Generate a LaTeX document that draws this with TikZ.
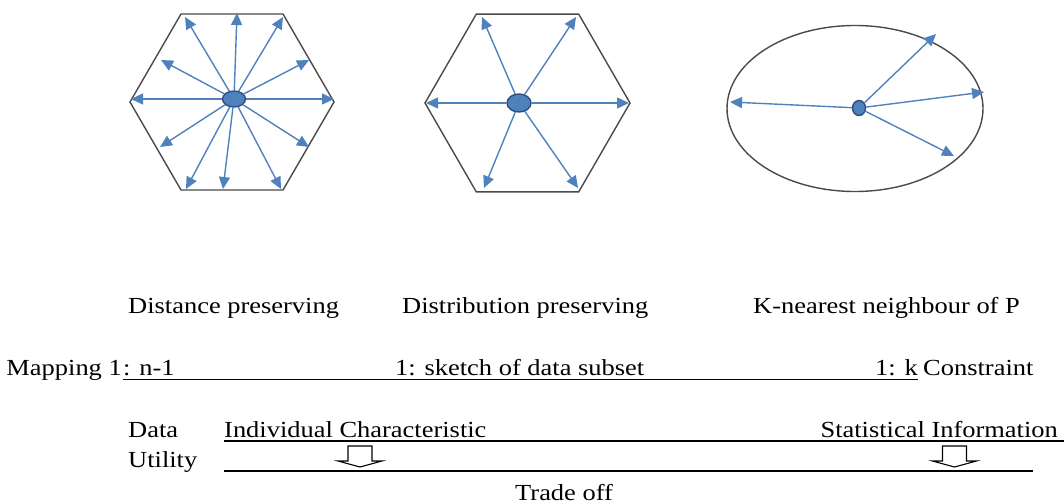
\documentclass[tikz,border=0pt]{standalone}
\usepackage{fontspec}
\setmainfont{Liberation Serif}[FakeStretch=1.15]
\usetikzlibrary{arrows.meta,shapes.geometric}
\definecolor{ablue}{HTML}{4F81BD}
\definecolor{dblue}{HTML}{2F4F7F}
\definecolor{hexgray}{HTML}{4A4A4A}
\begin{document}
\begin{tikzpicture}[x=1pt,y=-1pt,
  lbl/.style={font=\fontsize{23}{27}\selectfont, inner sep=0pt, anchor=base west},
  lble/.style={font=\fontsize{23}{27}\selectfont, inner sep=0pt, anchor=base east},
  ray/.style={draw=ablue, line width=1.4pt, -{Triangle[length=12pt,width=11pt]}},
  dot/.style={ellipse, draw=dblue, fill=ablue, line width=1.4pt, inner sep=0pt},
  outline/.style={draw=hexgray, line width=1.4pt},
  rulel/.style={draw=black, line width=1.6pt},
  downarrow/.style={draw=black, line width=1.1pt, fill=white}]
\useasboundingbox (0,0) rectangle (1064,503);
% shapes
\draw[outline] (130,102) -- (181,14) -- (283,14) -- (334,102) -- (283,190) -- (181,190) -- cycle;
\draw[outline] (425,103) -- (476.25,14.2) -- (578.75,14.2) -- (630,103) -- (578.75,191.8) -- (476.25,191.8) -- cycle;
\draw[outline] (855,108.5) ellipse [x radius=128pt, y radius=83pt];
% centres
\node[dot, minimum width=23pt, minimum height=16pt] (d1) at (234,99) {};
\node[dot, minimum width=24pt, minimum height=18pt] (d2) at (519,103) {};
\node[dot, minimum width=13pt, minimum height=15pt] (d3) at (859,108) {};
% rays
\foreach \x/\y [count=\i] in {185/17, 237/13, 283/17, 309/60, 334/99, 309/147, 281/189, 223/189, 186/189, 160/147, 131/99, 161/60}
  {\coordinate (a\i) at (\x,\y); \draw[ray] (d1) -- (a\i);}
\foreach \x/\y [count=\i] in {426/103, 629/103, 482/17, 576/17, 484/188, 578/188}
  {\coordinate (b\i) at (\x,\y); \draw[ray] (d2) -- (b\i);}
\foreach \x/\y [count=\i] in {936/34, 984/92, 954/156, 730/102}
  {\coordinate (c\i) at (\x,\y); \draw[ray] (d3) -- (c\i);}
% labels
\node[lbl] (t1) at (128,313) {Distance preserving};
\node[lbl] (t2) at (402,313) {Distribution preserving};
\node[lbl] (t3) at (753,313) {K-nearest neighbour of P};
% mapping row
\node[lble] (m0) at (122,375) {Mapping 1};
\node[lbl] (m0b) at (123,375) {: n-1};
\node[lbl] (m1) at (395,375) {1: sketch of data subset};
\node[lbl] (m2) at (875,375) {1: k};
\node[lbl] (m3) at (923,375) {Constraint};
\coordinate (u1) at (123,379.5);
\coordinate (u2) at (918,379.5);
\draw[rulel] (u1) -- (u2);
% utility
\node[lbl] (p1) at (128,437) {Data};
\node[lbl] (p2) at (128,467) {Utility};
\node[lbl] (p3) at (224,437) {Individual Characteristic};
\node[lble] (p4) at (1058,437) {Statistical Information};
\coordinate (l1a) at (224,441);
\coordinate (l1b) at (1064,441);
\coordinate (l2a) at (224,471);
\coordinate (l2b) at (1033,471);
\draw[rulel] (l1a) -- (l1b);
\draw[rulel] (l2a) -- (l2b);
\draw[downarrow] (348,446) -- (348,461) -- (338,461) -- (360,467) -- (382,461) -- (372,461) -- (372,446) -- cycle;
\draw[downarrow] (942.5,446) -- (942.5,461) -- (932.5,461) -- (954.5,467) -- (976.5,461) -- (966.5,461) -- (966.5,446) -- cycle;
\node[lbl] (to) at (515,500) {Trade off};
\end{tikzpicture}
\end{document}
